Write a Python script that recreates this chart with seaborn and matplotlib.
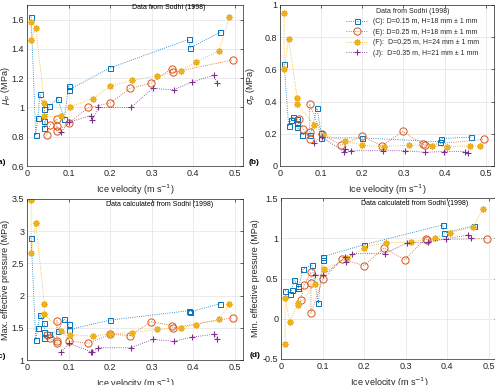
import matplotlib
matplotlib.use('Agg')
import matplotlib.pyplot as plt
import seaborn as sns
from matplotlib.ticker import FuncFormatter

# Sodhi (1998) test series: velocity, mean, std, max and min effective pressure
vel_C = [0.010, 0.021, 0.026, 0.031, 0.042, 0.042, 0.042, 0.053, 0.074, 0.090, 0.100, 0.100, 0.200, 0.389, 0.392, 0.465]
mean_C = [1.62, 0.81, 0.93, 1.09, 0.99, 0.91, 0.86, 1.01, 1.06, 0.92, 1.145, 1.12, 1.27, 1.465, 1.405, 1.515]
std_C = [0.635, 0.25, 0.285, 0.305, 0.29, 0.265, 0.24, 0.195, 0.195, 0.36, 0.205, 0.175, 0.175, 0.15, 0.17, 0.18]
max_C = [2.89, 1.31, 1.50, 1.70, 1.57, 1.44, 1.34, 1.40, 1.45, 1.64, 1.555, 1.47, 1.62, 1.765, 1.745, 1.875]
min_C = [0.35, 0.31, 0.36, 0.48, 0.41, 0.38, 0.38, 0.62, 0.67, 0.20, 0.735, 0.77, 0.92, 1.165, 1.065, 1.155]

vel_E = [0.047, 0.056, 0.072, 0.072, 0.072, 0.101, 0.148, 0.200, 0.248, 0.298, 0.348, 0.352, 0.495]
mean_E = [0.81, 0.88, 0.92, 0.87, 0.84, 0.895, 1.0, 1.03, 1.13, 1.165, 1.265, 1.24, 1.325]
std_E = [0.29, 0.23, 0.17, 0.21, 0.385, 0.20, 0.13, 0.185, 0.125, 0.215, 0.135, 0.13, 0.165]
max_E = [1.39, 1.34, 1.26, 1.29, 1.61, 1.295, 1.26, 1.40, 1.38, 1.595, 1.535, 1.50, 1.655]
min_E = [0.23, 0.42, 0.58, 0.45, 0.07, 0.495, 0.74, 0.66, 0.88, 0.735, 0.995, 0.98, 0.995]

vel_F = [0.010, 0.010, 0.021, 0.042, 0.042, 0.083, 0.104, 0.159, 0.200, 0.253, 0.313, 0.370, 0.406, 0.462, 0.487]
mean_F = [1.585, 1.46, 1.545, 1.03, 0.94, 0.94, 1.005, 1.06, 1.145, 1.185, 1.215, 1.25, 1.31, 1.385, 1.615]
std_F = [0.95, 0.60, 0.79, 0.42, 0.385, 0.255, 0.195, 0.155, 0.13, 0.12, 0.13, 0.125, 0.12, 0.125, 0.125]
max_F = [3.485, 2.66, 3.125, 1.87, 1.71, 1.45, 1.395, 1.37, 1.405, 1.425, 1.475, 1.50, 1.55, 1.635, 1.865]
min_F = [-0.315, 0.26, -0.035, 0.19, 0.17, 0.43, 0.615, 0.75, 0.885, 0.945, 0.955, 1.0, 1.07, 1.135, 1.365]

vel_J = [0.083, 0.101, 0.155, 0.157, 0.172, 0.250, 0.303, 0.353, 0.398, 0.450, 0.457]
mean_J = [0.835, 0.90, 0.945, 0.915, 1.0, 1.0, 1.13, 1.12, 1.175, 1.22, 1.165]
std_J = [0.145, 0.18, 0.09, 0.105, 0.095, 0.095, 0.095, 0.085, 0.09, 0.09, 0.08]
max_J = [1.125, 1.26, 1.125, 1.125, 1.19, 1.19, 1.32, 1.29, 1.355, 1.40, 1.325]
min_J = [0.545, 0.54, 0.765, 0.705, 0.81, 0.81, 0.94, 0.95, 0.995, 1.04, 1.005]

labels = ['(C): D=0.15 m, H=18 mm \u00b1 1 mm',
          '(E): D=0.25 m, H=18 mm \u00b1 1 mm',
          '(F):  D=0.25 m, H=24 mm \u00b1 1 mm',
          '(J):  D=0.35 m, H=21 mm \u00b1 1 mm']

sns.set_theme(style='whitegrid')
plt.rcParams['font.family'] = ['Liberation Sans', 'DejaVu Sans']
plt.rcParams['mathtext.fontset'] = 'dejavusans'

dark = '#262626'
styles = [
    dict(color='#0072BD', marker='s', markersize=3.6, markerfacecolor='none', markeredgewidth=0.7),
    dict(color='#D95319', marker='o', markersize=5.2, markerfacecolor='none', markeredgewidth=0.7),
    dict(color='#EDB120', marker=(8, 2, 0), markersize=4.6, markeredgewidth=1.0),
    dict(color='#7E2F8E', marker='+', markersize=5.0, markeredgewidth=0.8),
]

fig = plt.figure(figsize=(4.95, 3.85), dpi=100)

W, H = 495.0, 385.0
def place(left, top, width=216, height=161):
    return fig.add_axes([left / W, 1 - (top + height) / H, width / W, height / H])

axA = place(27, 5)
axB = place(280, 5, width=214)
axC = place(27, 199)
axD = place(281, 198)

panels = [
    (axA, [mean_C, mean_E, mean_F, mean_J], (0.6, 1.7), [0.6, 0.8, 1.0, 1.2, 1.4, 1.6],
     r'$\mu_{p}$ (MPa)', '(a)', -14),
    (axB, [std_C, std_E, std_F, std_J], (0, 1), [0, 0.2, 0.4, 0.6, 0.8, 1.0],
     r'$\sigma_{p}$ (MPa)', '(b)', -22),
    (axC, [max_C, max_E, max_F, max_J], (1, 3.5), [1, 1.5, 2, 2.5, 3, 3.5],
     'Max. effective pressure (MPa)', '(c)', -17),
    (axD, [min_C, min_E, min_F, min_J], (-0.5, 1.5), [-0.5, 0, 0.5, 1, 1.5],
     'Min. effective pressure (MPa)', '(d)', -21),
]
vels = [vel_C, vel_E, vel_F, vel_J]

fmt = FuncFormatter(lambda v, p: '%g' % round(v, 3))

for ax, ys, ylim, yticks, ylabel, tag, ylab_px in panels:
    for i in range(4):
        st = styles[i]
        sns.lineplot(x=vels[i], y=ys[i], ax=ax, sort=False, estimator=None,
                     linestyle=':', linewidth=0.6, markeredgecolor=st['color'],
                     label=labels[i] if ax is axB else None, legend=False, **st)
    ax.set_xlim(0, 0.52)
    ax.set_ylim(*ylim)
    ax.set_xticks([0, 0.1, 0.2, 0.3, 0.4, 0.5])
    ax.set_yticks(yticks)
    ax.xaxis.set_major_formatter(fmt)
    ax.yaxis.set_major_formatter(fmt)
    ax.grid(True, color='#e3e3e3', linewidth=0.5)
    for s in ax.spines.values():
        s.set_color(dark)
        s.set_linewidth(0.5)
    ax.tick_params(direction='in', length=2.5, width=0.5, top=True, right=True,
                   labelsize=6.5, pad=2, colors=dark, labelcolor=dark)
    ax.set_xlabel(r'Ice velocity (m s$^{-1}$)', fontsize=6.5, color=dark)
    ax.set_ylabel(ylabel, fontsize=6.5, color=dark)
    ax.xaxis.set_label_coords(0.5, -17 / 161)
    ax.yaxis.set_label_coords(ylab_px / 216, 0.5)
    ax.text(-26 / 216, 0.02, tag, transform=ax.transAxes, ha='center', va='center',
            fontsize=6, fontweight='bold', color='black')

axA.text(0.341, 1.68, 'Data from Sodhi (1998)', ha='center', va='center', fontsize=5, color='black')
axC.text(0.32, 3.42, 'Data calculated from Sodhi (1998)', ha='center', va='center', fontsize=5, color='black')
axD.text(0.322, 1.426, 'Data calculated from Sodhi (1998)', ha='center', va='center', fontsize=5, color='black')

leg = axB.legend(loc='upper right', bbox_to_anchor=(0.945, 1.0), frameon=False, fontsize=5,
                 title='Data from Sodhi (1998)', title_fontsize=5, handlelength=3.2,
                 handletextpad=0.8, labelspacing=0.5, borderaxespad=0.2, borderpad=0.2)

fig.savefig('out.png', dpi=100)
